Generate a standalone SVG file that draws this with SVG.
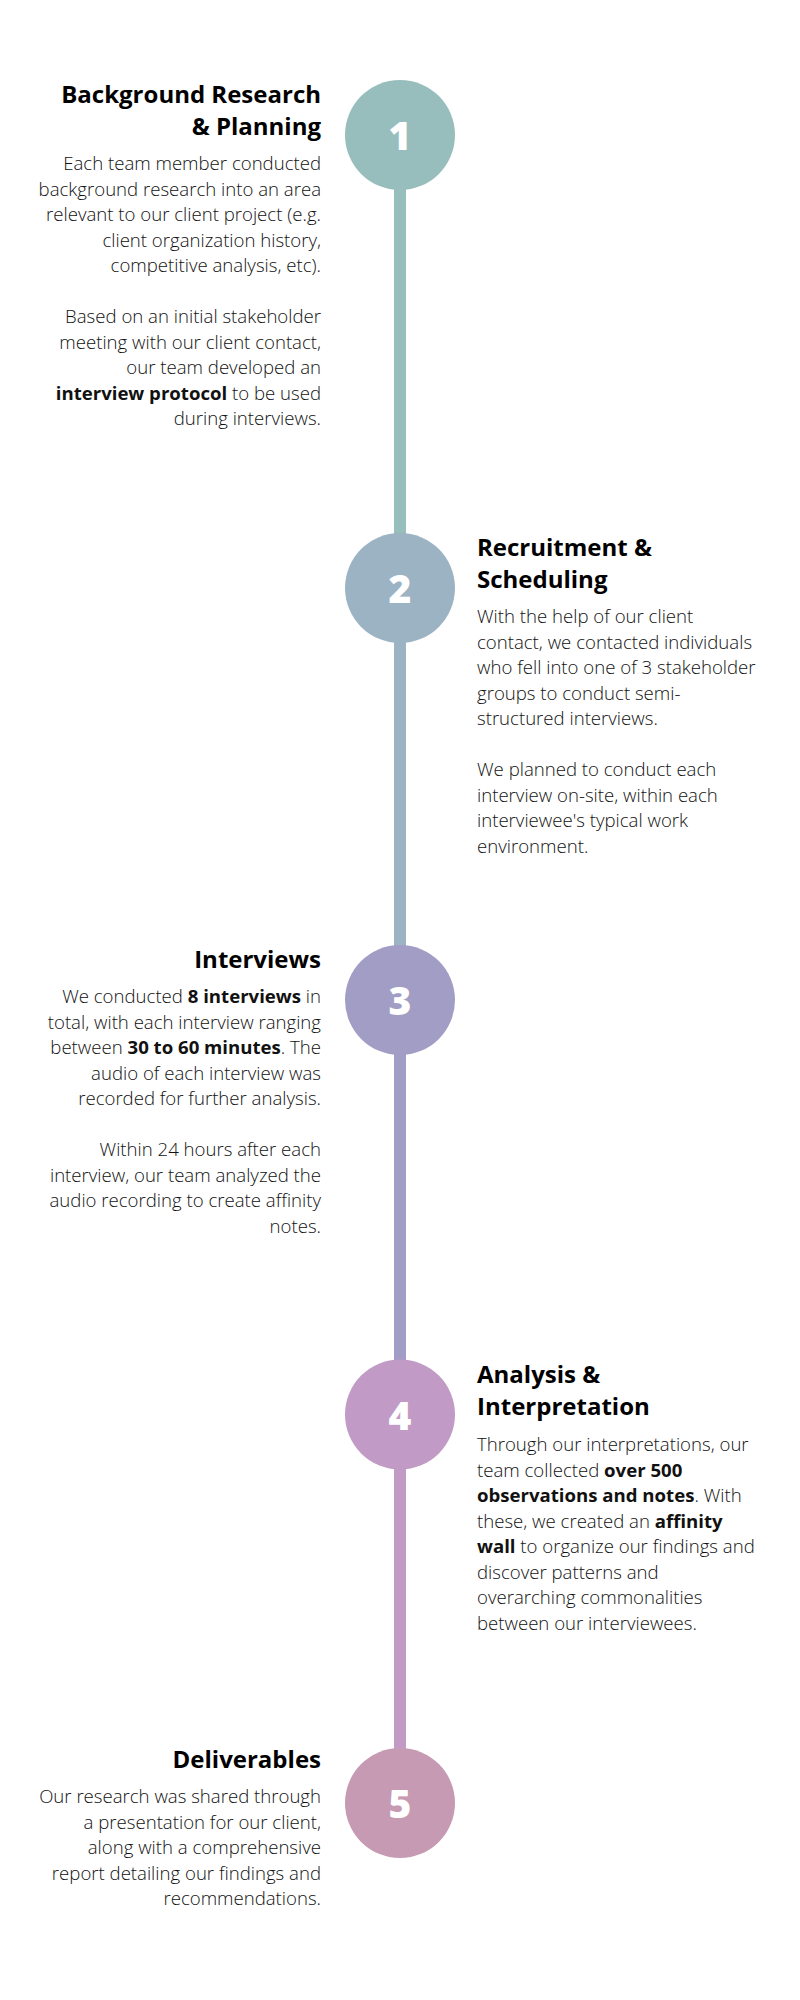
<svg xmlns="http://www.w3.org/2000/svg" width="800" height="2000" viewBox="0 0 800 2000">
<style>
  .h { font-family: "Open Sans", "Liberation Sans", sans-serif; font-weight: 700; font-size: 24px; fill: #000; }
  .b { font-family: "Open Sans", "Liberation Sans", sans-serif; font-weight: 300; font-size: 18.6px; fill: #111; }
  .s { font-weight: 700; }
  .L { text-anchor: end; }
  .num { font-family: "Open Sans", "Liberation Sans", sans-serif; font-weight: 800; font-size: 39px; fill: #fff; text-anchor: middle; }
  .seg { stroke-width: 12; fill: none; }
</style>
<rect width="800" height="2000" fill="#fff"/>
<g id="connectors">
  <line class="seg" x1="400" y1="135" x2="400" y2="588" stroke="#97bebc"/>
  <line class="seg" x1="400" y1="588" x2="400" y2="1000" stroke="#9cb3c4"/>
  <line class="seg" x1="400" y1="1000" x2="400" y2="1414.5" stroke="#a29dc5"/>
  <line class="seg" x1="400" y1="1414.5" x2="400" y2="1803" stroke="#c19bc5"/>
</g>
<g id="step1">
  <circle cx="400" cy="135" r="55" fill="#97bebc"/>
  <text class="num" x="400" y="150">1</text>
  <text class="h L" x="321" y="103">Background Research</text>
  <text class="h L" x="321" y="135">&amp; Planning</text>
  <text class="b L" x="321" y="170">Each team member conducted</text>
  <text class="b L" x="321" y="195.5">background research into an area</text>
  <text class="b L" x="321" y="221">relevant to our client project (e.g.</text>
  <text class="b L" x="321" y="246.5">client organization history,</text>
  <text class="b L" x="321" y="272">competitive analysis, etc).</text>
  <text class="b L" x="321" y="323">Based on an initial stakeholder</text>
  <text class="b L" x="321" y="348.5">meeting with our client contact,</text>
  <text class="b L" x="321" y="374">our team developed an</text>
  <text class="b L" x="321" y="399.5"><tspan class="s">interview protocol</tspan> to be used</text>
  <text class="b L" x="321" y="425">during interviews.</text>
</g>
<g id="step2">
  <circle cx="400" cy="588" r="55" fill="#9cb3c4"/>
  <text class="num" x="400" y="603">2</text>
  <text class="h" x="477" y="556">Recruitment &amp;</text>
  <text class="h" x="477" y="588">Scheduling</text>
  <text class="b" x="477" y="623">With the help of our client</text>
  <text class="b" x="477" y="648.5">contact, we contacted individuals</text>
  <text class="b" x="477" y="674">who fell into one of 3 stakeholder</text>
  <text class="b" x="477" y="699.5">groups to conduct semi-</text>
  <text class="b" x="477" y="725">structured interviews.</text>
  <text class="b" x="477" y="776">We planned to conduct each</text>
  <text class="b" x="477" y="801.5">interview on-site, within each</text>
  <text class="b" x="477" y="827">interviewee's typical work</text>
  <text class="b" x="477" y="852.5">environment.</text>
</g>
<g id="step3">
  <circle cx="400" cy="1000" r="55" fill="#a29dc5"/>
  <text class="num" x="400" y="1015">3</text>
  <text class="h L" x="321" y="968">Interviews</text>
  <text class="b L" x="321" y="1003">We conducted <tspan class="s">8 interviews</tspan> in</text>
  <text class="b L" x="321" y="1028.5">total, with each interview ranging</text>
  <text class="b L" x="321" y="1054">between <tspan class="s">30 to 60 minutes</tspan>. The</text>
  <text class="b L" x="321" y="1079.5">audio of each interview was</text>
  <text class="b L" x="321" y="1105">recorded for further analysis.</text>
  <text class="b L" x="321" y="1156">Within 24 hours after each</text>
  <text class="b L" x="321" y="1181.5">interview, our team analyzed the</text>
  <text class="b L" x="321" y="1207">audio recording to create affinity</text>
  <text class="b L" x="321" y="1232.5">notes.</text>
</g>
<g id="step4">
  <circle cx="400" cy="1414.5" r="55" fill="#c19bc5"/>
  <text class="num" x="400" y="1429.5">4</text>
  <text class="h" x="477" y="1383">Analysis &amp;</text>
  <text class="h" x="477" y="1415">Interpretation</text>
  <text class="b" x="477" y="1451">Through our interpretations, our</text>
  <text class="b" x="477" y="1476.5">team collected <tspan class="s">over 500</tspan></text>
  <text class="b" x="477" y="1502"><tspan class="s">observations and notes</tspan>. With</text>
  <text class="b" x="477" y="1527.5">these, we created an <tspan class="s">affinity</tspan></text>
  <text class="b" x="477" y="1553"><tspan class="s">wall</tspan> to organize our findings and</text>
  <text class="b" x="477" y="1578.5">discover patterns and</text>
  <text class="b" x="477" y="1604">overarching commonalities</text>
  <text class="b" x="477" y="1629.5">between our interviewees.</text>
</g>
<g id="step5">
  <circle cx="400" cy="1803" r="55" fill="#c59ab2"/>
  <text class="num" x="400" y="1818">5</text>
  <text class="h L" x="321" y="1768">Deliverables</text>
  <text class="b L" x="321" y="1803">Our research was shared through</text>
  <text class="b L" x="321" y="1828.5">a presentation for our client,</text>
  <text class="b L" x="321" y="1854">along with a comprehensive</text>
  <text class="b L" x="321" y="1879.5">report detailing our findings and</text>
  <text class="b L" x="321" y="1905">recommendations.</text>
</g>
</svg>
